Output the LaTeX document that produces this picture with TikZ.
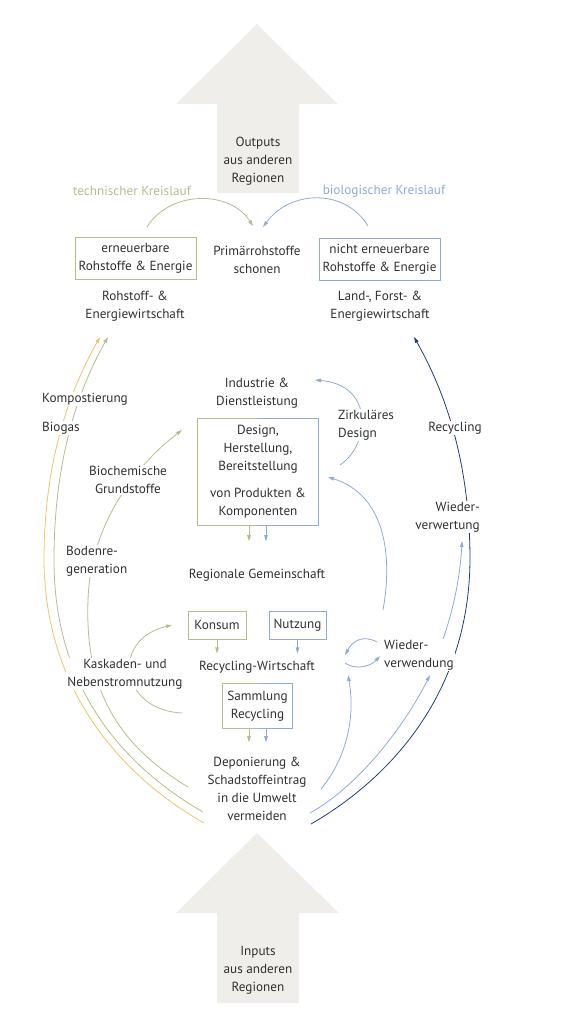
\documentclass[tikz,border=0pt]{standalone}
\usepackage{fontspec}
\setmainfont{PT Sans}
\usetikzlibrary{arrows.meta,calc}
\definecolor{ctext}{HTML}{303030}
\definecolor{ctech}{HTML}{B4BE8C}
\definecolor{cbio}{HTML}{8FAADB}
\definecolor{cnavy}{HTML}{1F3E7C}
\definecolor{cyel}{HTML}{F0C565}
\definecolor{cgray}{HTML}{F0EEEA}
\pgfdeclarelayer{bg}
\pgfsetlayers{bg,main}
\tikzset{
  txt/.style={align=center,font=\fontsize{13.2}{18}\selectfont,text=ctext,inner sep=1pt},
  lbl/.style={txt,fill=white},
  box/.style={txt,draw,line width=0.9pt,inner sep=2pt},
  flow/.style={line width=0.8pt,-{Triangle[length=6pt,width=3.6pt]}},
  half/.style={line width=0.9pt}
}

\begin{document}
\begin{tikzpicture}[x={(1pt,0)},y={(0,-1pt)}]
  \useasboundingbox (0,0) rectangle (576,1023);
  % grey arrows
  \fill[cgray] (257,24) -- (338,104) -- (299,104) -- (299,193) -- (217,193) -- (217,104) -- (176,104) -- cycle;
  \fill[cgray] (257,833) -- (339,913) -- (299,913) -- (299,1003) -- (217,1003) -- (217,913) -- (176,913) -- cycle;
  \node[txt] (outputs) at (258,161) {Outputs\\aus anderen\\Regionen};
  \node[txt] (inputs) at (258,970) {Inputs\\aus anderen\\Regionen};

  % top row
  \node[txt,text=ctech] (techkl) at (132,191) {technischer Kreislauf};
  \node[txt,text=cbio] (biokl) at (384,191) {biologischer Kreislauf};
  \node[box,draw=ctech,minimum width=121,minimum height=42] (erneu) at (135.5,258) {erneuerbare\\Rohstoffe \& Energie};
  \node[txt] (primaer) at (257,259.5) {Primärrohstoffe\\schonen};
  \node[box,draw=cbio,minimum width=121,minimum height=42] (nichterneu) at (379.5,259) {nicht erneuerbare\\Rohstoffe \& Energie};
  \node[txt] (rohwirt) at (135,306) {Rohstoff- \&\\Energiewirtschaft};
  \node[txt] (landwirt) at (380,306) {Land-, Forst- \&\\Energiewirtschaft};

  % centre column
  \node[txt] (industrie) at (257,393) {Industrie \&\\Dienstleistung};
  \node[txt,minimum width=120,minimum height=106] (design) at (258,472)
    {Design,\\Herstellung,\\Bereitstellung\\[9pt]von Produkten \&\\Komponenten};
  \node[txt] (regional) at (257,575) {Regionale Gemeinschaft};
  \node[box,draw=ctech,minimum width=58,minimum height=28] (konsum) at (217,625) {Konsum};
  \node[box,draw=cbio,minimum width=57,minimum height=28] (nutzung) at (297.5,625) {Nutzung};
  \node[txt] (recwirt) at (257,667) {Recycling-Wirtschaft};
  \node[txt,minimum width=69,minimum height=44] (samml) at (257.5,706) {Sammlung\\Recycling};
  \node[txt] (deponie) at (257,788.5) {Deponierung \&\\Schadstoffeintrag\\in die Umwelt\\vermeiden};

  % boxes with two colours
  \draw[half,ctech] (design.north) -| (design.south west) -- (design.south);
  \draw[half,cbio] (design.north) -| (design.south east) -- (design.south);
  \draw[half,ctech] (samml.north) -| (samml.south west) -- (samml.south);
  \draw[half,cbio] (samml.north) -| (samml.south east) -- (samml.south);

  % labels on the loops
  \node[lbl,anchor=west] (kompost) at (41,399) {Kompostierung};
  \node[lbl,anchor=west] (biogas) at (41,428) {Biogas};
  \node[lbl] (biochem) at (128,480) {Biochemische\\Grundstoffe};
  \node[lbl,anchor=west,align=left] (bodenre) at (65,561) {Bodenre-\\generation};
  \node[lbl] (kaskaden) at (125,674) {Kaskaden- und\\Nebenstromnutzung};
  \node[lbl,anchor=west,align=left] (zirk) at (337,425) {Zirkuläres\\Design};
  \node[lbl] (recyc) at (455,428) {Recycling};
  \node[lbl,anchor=east,align=right] (wverwert) at (481,517) {Wieder-\\verwertung};
  \node[lbl,anchor=west,align=left] (wverwend) at (383,655) {Wieder-\\verwendung};

  % short flows
  \draw[flow,ctech] ($(design.south)+(-9,0)$) -- ++(0,16);
  \draw[flow,cbio] ($(design.south)+(8,0)$) -- ++(0,16);
  \draw[flow,ctech] (konsum.south) -- ++(0,14);
  \draw[flow,cbio] (nutzung.south) -- ++(0,14);
  \draw[flow,ctech] ($(samml.south)+(-8.5,0)$) -- ++(0,14);
  \draw[flow,cbio] ($(samml.south)+(8.5,0)$) -- ++(0,14);

  \begin{pgfonlayer}{bg}
    \coordinate (tkA) at (147,227); \coordinate (tkB) at (253,226);
    \coordinate (bkA) at (368,226); \coordinate (bkB) at (263,227);
    \coordinate (yelA) at (204,823); \coordinate (yelB) at (100,337);
    \coordinate (grnA) at (203,812); \coordinate (grnB) at (108,337);
    \coordinate (navA) at (311,824); \coordinate (navB) at (414,337);
    \coordinate (lbA) at (310,813); \coordinate (lbB) at (430,675);
    \coordinate (lbC) at (441,645); \coordinate (lbD) at (462,541);
    \coordinate (igA) at (188,787); \coordinate (igB) at (182,430);
    \coordinate (kkA) at (182,713); \coordinate (kkB) at (172,625);
    \coordinate (ibA) at (321,789); \coordinate (ibB) at (348,675);
    \coordinate (bdA) at (383,610); \coordinate (bdB) at (328,477);
    \coordinate (zkA) at (340,465); \coordinate (zkB) at (315,380);
    \coordinate (swA) at (377,642); \coordinate (swB) at (345,655);
    \coordinate (swC) at (345,663); \coordinate (swD) at (380,656);
    % Kreislauf
    \draw[flow,ctech] (tkA) .. controls (170,190) and (230,190) .. (tkB);
    \draw[flow,cbio] (bkA) .. controls (345,188) and (290,190) .. (bkB);
    % outer loops
    \draw[flow,cyel] (yelA) .. controls (120,775) and (45,690) .. (44,560) .. controls (44,460) and (70,390) .. (yelB);
    \draw[flow,ctech] (grnA) .. controls (125,767) and (54,690) .. (54,560) .. controls (54,460) and (78,390) .. (grnB);
    \draw[flow,cnavy] (navA) .. controls (394,776) and (469,690) .. (470,560) .. controls (470,460) and (444,390) .. (navB);
    \draw[flow,cbio] (lbA) .. controls (360,785) and (405,725) .. (lbB);
    \draw[flow,cbio] (lbC) .. controls (452,615) and (460,580) .. (lbD);
    % inner loops
    \draw[flow,ctech] (igA) .. controls (110,740) and (85,680) .. (88,600) .. controls (90,530) and (130,470) .. (igB);
    \draw[flow,ctech] (kkA) .. controls (120,710) and (110,640) .. (kkB);
    \draw[flow,cbio] (ibA) .. controls (345,760) and (356,720) .. (ibB);
    \draw[flow,cbio] (bdA) .. controls (393,555) and (385,495) .. (bdB);
    \draw[flow,cbio] (zkA) .. controls (370,445) and (375,385) .. (zkB);
    \draw[flow,cbio] (swA) .. controls (362,634) and (352,642) .. (swB);
    \draw[flow,cbio] (swC) .. controls (355,670) and (370,667) .. (swD);
  \end{pgfonlayer}
\end{tikzpicture}
\end{document}
